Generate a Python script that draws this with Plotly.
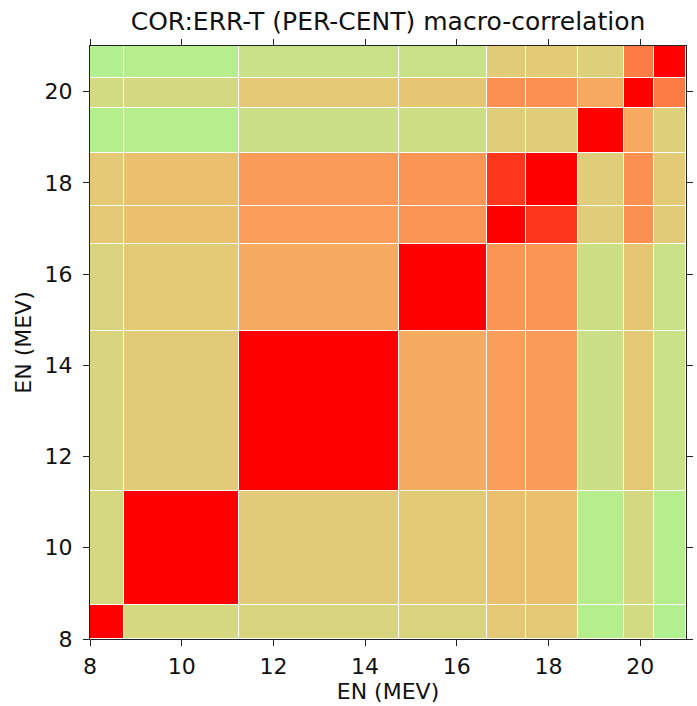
import plotly.graph_objects as go

# Energy bin edges (MeV)
edges = [8.0, 8.75, 11.25, 14.75, 16.65, 17.5, 18.65, 19.65, 20.3, 21.0]

# Upper triangle of the symmetric correlation matrix (row i, columns i..8)
upper = [
    [1.00, 0.20, 0.22, 0.23, 0.30, 0.30, 0.02, 0.18, 0.01],
    [1.00, 0.28, 0.29, 0.35, 0.35, 0.03, 0.19, 0.03],
    [1.00, 0.46, 0.52, 0.53, 0.14, 0.30, 0.13],
    [1.00, 0.56, 0.56, 0.15, 0.32, 0.13],
    [1.00, 0.88, 0.27, 0.58, 0.28],
    [1.00, 0.27, 0.58, 0.29],
    [1.00, 0.47, 0.25],
    [1.00, 0.68],
    [1.00],
]

xtick_vals = [8, 10, 12, 14, 16, 18, 20]
ytick_vals = [8, 10, 12, 14, 16, 18, 20]

n = len(edges) - 1
z = [[0.0] * n for _ in range(n)]
for i in range(n):
    for k, v in enumerate(upper[i]):
        j = i + k
        z[i][j] = v
        z[j][i] = v

colorscale = [
    [0.00, "#b0f08e"],
    [0.10, "#c4e68a"],
    [0.20, "#d6d880"],
    [0.30, "#e4c876"],
    [0.40, "#f0b868"],
    [0.50, "#faa25c"],
    [0.60, "#fc8c4f"],
    [0.70, "#fd7842"],
    [0.85, "#ff4422"],
    [1.00, "#ff0000"],
]

font_family = "DejaVu Sans"

fig = go.Figure(
    go.Heatmap(
        x=edges,
        y=edges,
        z=z,
        zmin=0,
        zmax=1,
        colorscale=colorscale,
        showscale=False,
        xgap=1,
        ygap=1,
        hoverinfo="skip",
    )
)

axis_common = dict(
    showline=True,
    linecolor="#222222",
    linewidth=1,
    mirror="ticks",
    ticks="outside",
    ticklen=6,
    tickwidth=1,
    tickcolor="#222222",
    showgrid=False,
    zeroline=False,
    tickfont=dict(family=font_family, size=22, color="#111111"),
)

fig.update_xaxes(
    range=[8, 21],
    tickvals=xtick_vals,
    ticktext=[str(v) for v in xtick_vals],
    ticklabelstandoff=2,
    title=dict(text="EN (MEV)", font=dict(family=font_family, size=22, color="#111111"), standoff=2),
    **axis_common,
)
fig.update_yaxes(
    range=[8, 21],
    tickvals=ytick_vals,
    ticktext=[str(v) for v in ytick_vals],
    ticklabelstandoff=6,
    title=dict(text="EN (MEV)", font=dict(family=font_family, size=22, color="#111111"), standoff=6),
    **axis_common,
)

fig.update_layout(
    width=697,
    height=706,
    autosize=False,
    margin=dict(l=90, r=4, t=46, b=67),
    paper_bgcolor="white",
    plot_bgcolor="white",
    title=dict(
        text="COR:ERR-T (PER-CENT) macro-correlation",
        font=dict(family=font_family, size=25, color="#111111"),
        x=0.5,
        xref="paper",
        xanchor="center",
        y=1 - 21 / 706,
        yref="container",
        yanchor="middle",
    ),
)

fig.write_html("out.html")
